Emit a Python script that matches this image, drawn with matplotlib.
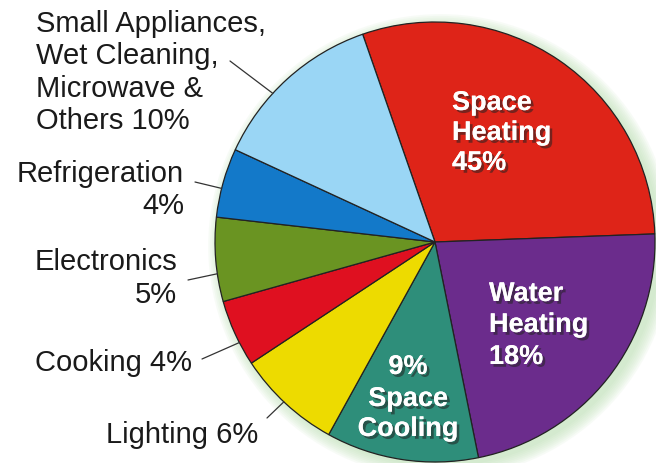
import numpy as np
import matplotlib
matplotlib.use("Agg")
import matplotlib.pyplot as plt
import matplotlib.patheffects as pe
from matplotlib.patches import Circle

# ---- data ----
categories = ["Space Heating", "Water Heating", "Space Cooling", "Lighting",
              "Cooking", "Electronics", "Refrigeration",
              "Small Appliances, Wet Cleaning, Microwave & Others"]
label_pcts = [45, 18, 9, 6, 4, 5, 4, 10]           # printed percentages
slice_degrees = [107.1, 80.7, 40.3, 27.7, 17.7, 22.2, 18.3, 46.0]  # drawn slice sizes
colors = ["#DE2418", "#6B2C8C", "#2E8E7A", "#EDDB00",
          "#DF1020", "#6A9422", "#1379C9", "#9AD6F5"]

W, H = 656, 464
fig = plt.figure(figsize=(W / 100, H / 100), dpi=100)
fig.patch.set_facecolor("white")

cx, cy, R = 435, 243, 220
ax = fig.add_axes([(cx - R) / W, (H - cy - R) / H, 2 * R / W, 2 * R / H])

# soft greenish glow behind the pie
for k in range(8):
    ax.add_patch(Circle((0.025, -0.02), 1.0 + 0.008 * k, facecolor="#b9dfb0",
                        edgecolor="none", alpha=0.10, zorder=0, clip_on=False))

wedges, _ = ax.pie(slice_degrees, colors=colors, startangle=109.2,
                   counterclock=False, radius=1.0,
                   wedgeprops=dict(edgecolor="#222222", linewidth=0.9,
                                   clip_on=False))
for w in wedges:
    w.set_zorder(2)
ax.set_xlim(-1, 1)
ax.set_ylim(-1, 1)
ax.set_aspect("equal")
ax.axis("off")

def fx(x):
    return x / W

def fy(y):
    return 1 - y / H

outer_font = dict(family=["Liberation Sans", "DejaVu Sans"], fontsize=21,
                  color="#1a1a1a")

# outer labels (line by line, baseline positions)
def outer(lines, x, baselines, ha):
    for t, b in zip(lines, baselines):
        fig.text(fx(x), fy(b), t, ha=ha, va="baseline", **outer_font)

outer(["Small Appliances,", "Wet Cleaning,", "Microwave &",
       f"Others {label_pcts[7]}%"], 36, [32, 64, 97, 129], "left")
outer(["Refrigeration", f"{label_pcts[6]}%"], 184, [182, 214], "right")
outer(["Electronics", f"{label_pcts[5]}%"], 177, [270, 303], "right")
outer([f"Cooking {label_pcts[4]}%"], 192, [371], "right")
outer([f"Lighting {label_pcts[3]}%"], 258, [443], "right")

# leader lines: from text to the wedge edge
leaders = [((230, 62), 137.5), ((195, 183), 165.9), ((188, 281), 188.3),
           ((202, 360), 207.2), ((267, 419), 226.6)]
for (px, py), ang in leaders:
    a = np.deg2rad(ang)
    ax.annotate("", xy=(np.cos(a), np.sin(a)), xycoords="data",
                xytext=(px, H - py), textcoords="figure pixels",
                arrowprops=dict(arrowstyle="-", color="#333333", lw=0.9,
                                shrinkA=0, shrinkB=0), zorder=3,
                annotation_clip=False)

# inner labels (white bold with drop shadow)
shadow = [pe.withSimplePatchShadow(offset=(2, -2), shadow_rgbFace="#222222",
                                   alpha=0.55), pe.Normal()]
inner_font = dict(family=["Liberation Sans", "DejaVu Sans"], fontsize=19.5,
                  fontweight="bold", color="white")

def inner(lines, x, baselines, ha):
    for t, b in zip(lines, baselines):
        txt = fig.text(fx(x), fy(b), t, ha=ha, va="baseline", **inner_font)
        txt.set_path_effects(shadow)
        txt.set_zorder(5)

inner(["Space", "Heating", f"{label_pcts[0]}%"], 452, [111, 141, 171], "left")
inner(["Water", "Heating", f"{label_pcts[1]}%"], 489, [302, 333, 365], "left")
inner([f"{label_pcts[2]}%", "Space", "Cooling"], 408, [375, 407, 437], "center")

fig.savefig("out.png", dpi=100)
